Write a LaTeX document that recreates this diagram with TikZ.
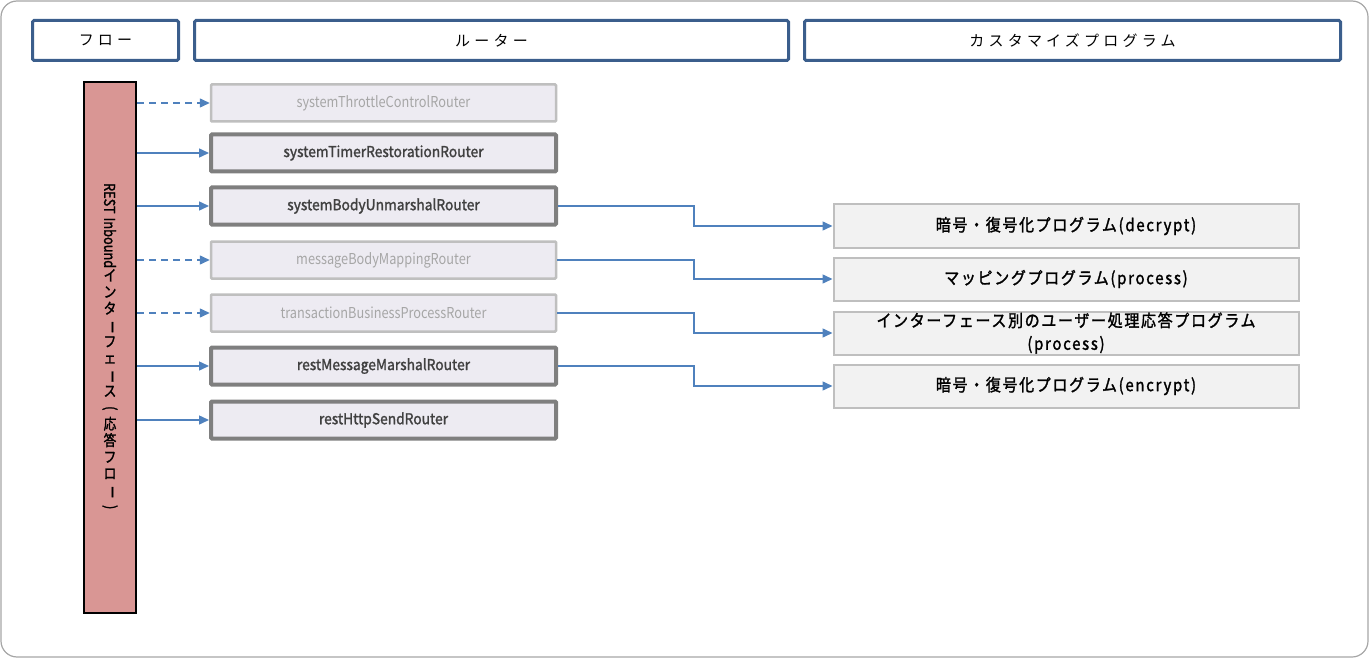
\documentclass[tikz,border=0pt]{standalone}
\usepackage{fontspec}
\usetikzlibrary{arrows.meta,calc}
\setmainfont{Noto Sans CJK JP}
\newfontfamily\hdrfont[LetterSpace=28]{Noto Sans CJK JP}
\newfontfamily\rtfont[FakeStretch=0.85]{Noto Sans CJK JP}
\newfontfamily\rtboldfont[FakeStretch=0.92,FakeBold=1.6]{Noto Sans CJK JP}
\newfontfamily\progfont[FakeStretch=0.88,FakeBold=1.6,LetterSpace=10]{Noto Sans CJK JP}
\newfontfamily\flowfont[FakeStretch=0.85,FakeBold=1.6]{Noto Sans CJK JP}
\newcommand{\vch}[1]{\rotatebox[origin=c]{-90}{#1}}
\definecolor{hdrblue}{HTML}{3B5E8C}
\definecolor{flowred}{HTML}{D99694}
\definecolor{routerfill}{HTML}{EDEBF2}
\definecolor{offgray}{HTML}{BFBFBF}
\definecolor{ongray}{HTML}{7F7F7F}
\definecolor{offtext}{HTML}{A6A6A6}
\definecolor{ontext}{HTML}{404040}
\definecolor{progfill}{HTML}{F2F2F2}
\definecolor{linkblue}{HTML}{4F81BD}
\definecolor{framegray}{HTML}{A6A6A6}
\tikzset{
    header/.style={draw=hdrblue,line width=3pt,rounded corners=1.5pt,minimum height=40pt,inner sep=0pt,font=\hdrfont\fontsize{15}{18}\selectfont},
    flowbar/.style={draw=black,line width=2pt,fill=flowred,minimum width=52pt,minimum height=531pt,align=center,inner sep=0pt,font=\flowfont\fontsize{15}{16.5}\selectfont},
    router/.style={fill=routerfill,minimum width=345pt,minimum height=37pt,inner sep=0pt,rounded corners=1pt},
    offrouter/.style={router,draw=offgray,line width=2.5pt,text=offtext,font=\rtfont\fontsize{15}{18}\selectfont},
    onrouter/.style={router,draw=ongray,line width=4pt,text=ontext,font=\rtboldfont\fontsize{15}{18}\selectfont},
    program/.style={draw=offgray,line width=2pt,fill=progfill,minimum width=465pt,minimum height=43pt,align=center,inner sep=0pt,font=\progfont\fontsize{17}{23}\selectfont},
    link/.style={draw=linkblue,line width=1.5pt,-{Triangle[length=10pt,width=9pt]}},
    offlink/.style={link,dash pattern=on 7pt off 5pt}
}
\begin{document}
\begin{tikzpicture}[x=1pt,y=-1pt]
\useasboundingbox (0,0) rectangle (1369,658);
\draw[framegray,line width=1.2pt,rounded corners=16pt] (1,1) rectangle (1368,657);

% headers
\node[header,minimum width=146pt] (hflow) at (105.5,40.5) {フロー};
\node[header,minimum width=594pt] (hrouter) at (491.5,40.5) {ルーター};
\node[header,minimum width=536pt] (hprog) at (1072.5,40.5) {カスタマイズプログラム};

% flow
\node[flowbar] (flow) at (110,347.5) {\rotatebox{-90}{REST\hspace{4pt}Inbound}\\イ\\ン\\タ\\\vch{ー}\\フ\\ェ\\\vch{ー}\\ス\\\vch{(}\\応\\答\\フ\\ロ\\\vch{ー}\\\vch{)}};

% routers
\foreach \name/\y/\sty/\txt in {r1/103/offrouter/systemThrottleControlRouter,
    r2/153/onrouter/systemTimerRestorationRouter,
    r3/206/onrouter/systemBodyUnmarshalRouter,
    r4/260/offrouter/messageBodyMappingRouter,
    r5/313/offrouter/transactionBusinessProcessRouter,
    r6/366/onrouter/restMessageMarshalRouter,
    r7/420/onrouter/restHttpSendRouter}
    \node[\sty] (\name) at (383.5,\y) {\txt};

\draw[offlink] (flow.east |- r1) -- (r1.west);
\draw[link] (flow.east |- r2) -- (r2.west);
\draw[link] (flow.east |- r3) -- (r3.west);
\draw[offlink] (flow.east |- r4) -- (r4.west);
\draw[offlink] (flow.east |- r5) -- (r5.west);
\draw[link] (flow.east |- r6) -- (r6.west);
\draw[link] (flow.east |- r7) -- (r7.west);

% programs
\node[program] (p1) at (1066,226) {暗号・復号化プログラム(decrypt)};
\node[program] (p2) at (1066,279) {マッピングプログラム(process)};
\node[program] (p3) at (1066,333) {インターフェース別のユーザー処理応答プログラム\\(process)};
\node[program] (p4) at (1066,386) {暗号・復号化プログラム(encrypt)};

\coordinate (mid) at (694,0);
\foreach \r/\p in {r3/p1,r4/p2,r5/p3,r6/p4}
    \draw[link] (\r.east) -- (\r.east -| mid) |- (\p.west);
\end{tikzpicture}
\end{document}
